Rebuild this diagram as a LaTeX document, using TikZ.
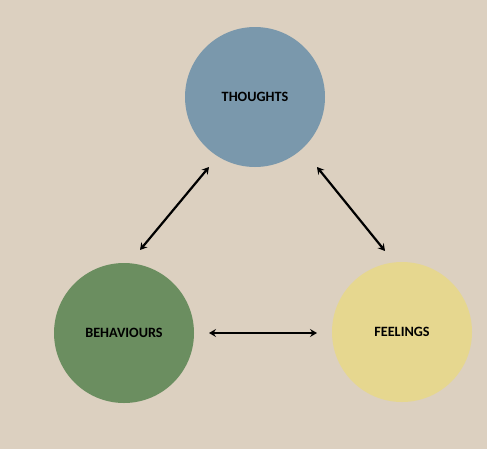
\documentclass[tikz,border=0pt]{standalone}
\usepackage{fontspec}
\setmainfont{Carlito}
\usetikzlibrary{arrows.meta}
\definecolor{bg}{RGB}{220,208,192}
\definecolor{thoughtc}{RGB}{122,152,172}
\definecolor{behavc}{RGB}{107,142,96}
\definecolor{feelc}{RGB}{230,215,143}
\tikzset{
  bubble/.style={circle, minimum size=140pt, inner sep=0pt, font=\fontsize{14.2}{16}\selectfont\bfseries, text=black},
  link/.style={line width=2.2pt, {Stealth[length=7pt,width=8pt,inset=2.5pt]}-{Stealth[length=7pt,width=8pt,inset=2.5pt]}}
}
\begin{document}
\begin{tikzpicture}[x=1pt,y=-1pt]
\fill[white] (0,0) rectangle (487,450);
\fill[bg] (0,0) rectangle (487,449);
\useasboundingbox (0,0) rectangle (487,450);
\node[bubble, fill=thoughtc] (t) at (255,97) {THOUGHTS};
\node[bubble, fill=behavc] (b) at (124,333) {BEHAVIOURS};
\node[bubble, fill=feelc] (f) at (402,332) {FEELINGS};
\coordinate (tl) at (209,167);
\coordinate (bl) at (140,250);
\coordinate (tr) at (317,167);
\coordinate (fr) at (385,251);
\coordinate (bh) at (209,333);
\coordinate (fh) at (317,333);
\draw[link] (tl) -- (bl);
\draw[link] (tr) -- (fr);
\draw[link] (bh) -- (fh);
\end{tikzpicture}
\end{document}
